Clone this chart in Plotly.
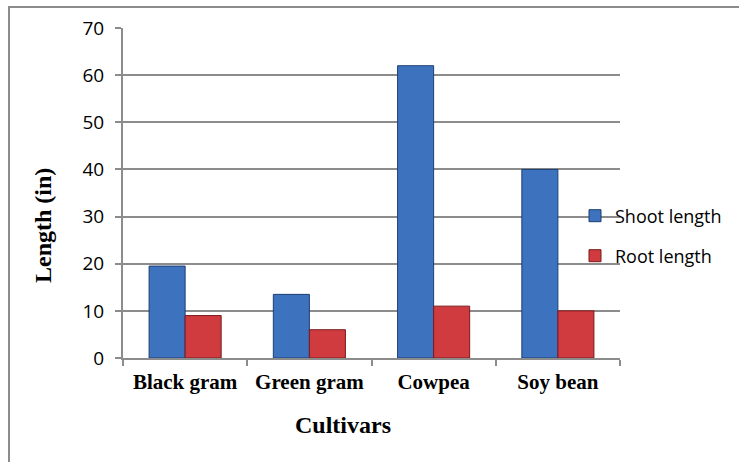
import plotly.graph_objects as go

cultivars = ["Black gram", "Green gram", "Cowpea", "Soy bean"]
shoot_length = [19.5, 13.5, 62, 40]
root_length = [9, 6, 11, 10]
y_ticks = [0, 10, 20, 30, 40, 50, 60, 70]

W, H = 739, 462
L, R, T, B = 123, 119, 28, 104
pw, ph = W - L - R, H - T - B

def lx(px):
    return (px - L) / pw

def ly(py):
    return (H - B - py) / ph

serif = "Liberation Serif, Times New Roman, serif"
sans = "Open Sans, Noto Sans, sans-serif"

fig = go.Figure()
fig.add_trace(go.Bar(
    x=cultivars, y=shoot_length, name="Shoot length",
    marker=dict(color="#3d72bf", line=dict(color="#1d3f72", width=1)),
    legend="legend", showlegend=True,
))
fig.add_trace(go.Bar(
    x=cultivars, y=root_length, name="Root length",
    marker=dict(color="#cf3b3e", line=dict(color="#7a1a1c", width=1)),
    legend="legend2", showlegend=True,
))

leg_font = dict(family=sans, size=18, color="#000000")
fig.update_layout(
    width=W, height=H, showlegend=True,
    margin=dict(l=L, r=R, t=T, b=B, autoexpand=False),
    paper_bgcolor="white", plot_bgcolor="white",
    barmode="group", bargap=0.42, bargroupgap=0.0,
    legend=dict(x=lx(575), y=ly(216), xanchor="left", yanchor="middle",
                font=leg_font, bgcolor="rgba(0,0,0,0)", itemwidth=30,
                tracegroupgap=0),
    legend2=dict(x=lx(575), y=ly(256), xanchor="left", yanchor="middle",
                 font=leg_font, bgcolor="rgba(0,0,0,0)", itemwidth=30,
                 tracegroupgap=0),
    xaxis=dict(
        automargin=False,
        showline=True, linecolor="#8c8c8c", linewidth=2,
        ticks="outside", ticklen=6, tickcolor="#8c8c8c", tickwidth=1.5,
        tickson="boundaries", ticklabelstandoff=4,
        tickfont=dict(family=serif, size=21, color="#000000"),
        showgrid=False,
    ),
    yaxis=dict(
        automargin=False,
        range=[0, 70], tickvals=y_ticks,
        showline=True, linecolor="#8c8c8c", linewidth=2,
        ticks="outside", ticklen=6, tickcolor="#8c8c8c", tickwidth=1.5,
        ticklabelstandoff=7,
        showgrid=True, gridcolor="#8c8c8c", gridwidth=1.5,
        zeroline=False,
        tickfont=dict(family=sans, size=19, color="#000000"),
    ),
    annotations=[
        dict(text="<b>Cultivars</b>", xref="paper", yref="paper",
             x=lx(343), y=ly(425), xanchor="center", yanchor="middle",
             showarrow=False, font=dict(family=serif, size=24, color="#000000")),
        dict(text="<b>Length (in)</b>", xref="paper", yref="paper",
             x=lx(43), y=ly(226), xanchor="center", yanchor="middle", textangle=-90,
             showarrow=False, font=dict(family=serif, size=24, color="#000000")),
    ],
)
fig.update_xaxes(tickprefix="<b>", ticksuffix="</b>")
fig.add_shape(type="rect", xref="paper", yref="paper",
              x0=lx(9), y0=ly(480), x1=lx(760), y1=ly(7),
              line=dict(color="#8c8c8c", width=2), fillcolor="rgba(0,0,0,0)", layer="below")

fig.write_html("out.html", config={"displayModeBar": False},
               post_script="document.body.style.margin='0';")
